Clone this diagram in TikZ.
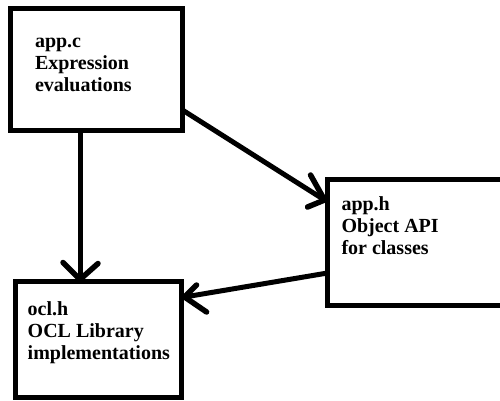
\documentclass[tikz,border=0pt]{standalone}
\usepackage{fontspec}
\setmainfont{Liberation Serif}
\usetikzlibrary{calc}
\tikzset{
  box/.style={draw=black, line width=5pt, rectangle, inner sep=0pt, outer sep=0pt, fill=white},
  boxtext/.style={anchor=base west, inner sep=0pt, outer sep=0pt, text=black,
    font=\bfseries\fontsize{20}{22}\selectfont},
  link/.style={draw=black, line width=5pt},
  barb/.style={draw=black, line width=5.5pt, line cap=round, line join=round},
}
% open V head at tip #1, wing ends at the offsets #2 and #3
\newcommand{\vhead}[3]{%
  \draw[barb] ($(#1)+(#2)$) -- (#1) -- ($(#1)+(#3)$);}
\begin{document}
\begin{tikzpicture}[x=1pt, y=-1pt]
  \useasboundingbox (0,0) rectangle (500,400);
  \begin{scope}
    \clip (0,0) rectangle (500,400);
    % modules
    \node[box, minimum width=171.7pt, minimum height=122pt] (appc) at (96.6,69.2) {};
    \node[box, minimum width=177.5pt, minimum height=125.5pt] (apph) at (416.3,242.3) {};
    \node[box, minimum width=166.5pt, minimum height=116pt] (oclh) at (98.3,339.5) {};
    % labels
    \node[boxtext] (appctext) at (35,47.8) {\begin{tabular}[t]{@{}l@{}}app.c\\Expression\\evaluations\end{tabular}};
    \node[boxtext] (apphtext) at (341.5,210) {\begin{tabular}[t]{@{}l@{}}app.h\\Object API\\for classes\end{tabular}};
    \node[boxtext] (oclhtext) at (27.7,315) {\begin{tabular}[t]{@{}l@{}}ocl.h\\OCL Library\\implementations\end{tabular}};
    % link end points
    \coordinate (c1s) at (appc.south -| 80,0);
    \coordinate (c1e) at ($(oclh.north -| 80,0)+(0,-2)$);
    \coordinate (c2s) at (appc.east |- 0,110);
    \coordinate (c2e) at ($(apph.west |- 0,200)+(-3,0)$);
    \coordinate (c3s) at (apph.west |- 0,273);
    \coordinate (c3e) at ($(oclh.east |- 0,297)+(3,0)$);
    % dependencies
    \draw[link] (c1s) -- (c1e);
    \draw[link] (c2s) -- (c2e);
    \draw[link] (c3s) -- (c3e);
    \vhead{c1e}{-17,-17}{18,-16}
    \vhead{c2e}{-14,-25}{-17,7}
    \vhead{c3e}{12,-12}{22,15}
  \end{scope}
\end{tikzpicture}
\end{document}
